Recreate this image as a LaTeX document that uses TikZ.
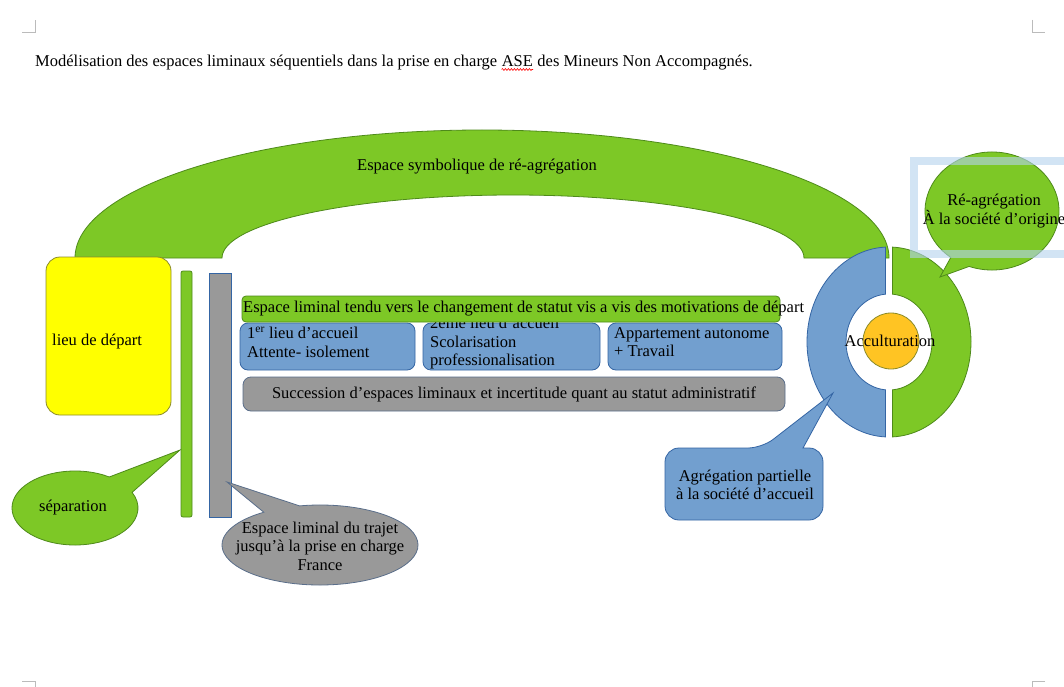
\documentclass[tikz,border=0pt]{standalone}
\usepackage{fontspec}
\setmainfont{Liberation Serif}
\usetikzlibrary{calc,decorations.pathmorphing}
\definecolor{grn}{HTML}{7DC826}
\definecolor{grnd}{HTML}{4E8A1A}
\definecolor{blu}{HTML}{729FCF}
\definecolor{blud}{HTML}{3465A4}
\definecolor{gry}{HTML}{999999}
\definecolor{gryd}{HTML}{5A6E8A}
\definecolor{yel}{HTML}{FFFF00}
\definecolor{yeld}{HTML}{8B8B2A}
\definecolor{org}{HTML}{FFC423}
\definecolor{frm}{HTML}{B4D2EE}
\definecolor{cmark}{HTML}{BBBBBB}
\begin{document}
\begin{tikzpicture}[x=1pt,y=1pt,
  txt/.style={inner sep=0pt, font=\fontsize{16.5}{18.5}\selectfont},
  gshape/.style={fill=grn, draw=grnd, line width=0.8pt},
  bshape/.style={fill=blu, draw=blud, line width=0.8pt},
  yshape/.style={fill=gry, draw=gryd, line width=0.8pt},
  cornermark/.style={draw=cmark, line width=1pt}]
\useasboundingbox (0,0) rectangle (1064,-687);
\fill[white] (0,0) rectangle (1064,-687);
% corner marks
\draw[cornermark] (22,-33) -- (35,-33) -- (35,-20);
\draw[cornermark] (1032,-20) -- (1032,-33) -- (1045,-33);
\draw[cornermark] (22,-681) -- (35,-681) -- (35,-690);
\draw[cornermark] (1045,-681) -- (1032,-681) -- (1032,-690);
% title
\node[txt, anchor=base west] (t1) at (35,-67) {Modélisation des espaces liminaux séquentiels dans la prise en charge};
\node[txt, anchor=base west] (t2) at (t1.base east) {\ ASE};
\node[txt, anchor=base west] (t3) at (t2.base east) {\ des Mineurs Non Accompagnés.};
\draw[red, line width=0.6pt, decorate, decoration={snake, amplitude=0.9pt, segment length=3pt}] ([xshift=4.1pt,yshift=-2.5pt]t2.base west) -- ([yshift=-2.5pt]t2.base east);
% arch
\path[gshape] (75,-258) arc[start angle=180, end angle=0, x radius=407, y radius=128]
  -- (804,-258) arc[start angle=0, end angle=180, x radius=291, y radius=63] -- cycle;
\node[txt] (archtxt) at (477,-167) {Espace symbolique de ré-agrégation};
% lieu de depart
\path[fill=yel, draw=yeld, line width=0.8pt, rounded corners=14] (46,-257) rectangle (171,-415);
\node[txt, anchor=west] (depart) at (52,-342) {lieu de départ};
% bars
\path[gshape, rounded corners=2] (181,-271) rectangle (192,-517);
\path[fill=gry, draw=blud, line width=0.8pt] (209,-273) rectangle (231,-517);
% blue boxes
\path[bshape, rounded corners=8] (240,-323) rectangle (415,-370);
\path[bshape, rounded corners=8] (423,-323) rectangle (600,-370);
\path[bshape, rounded corners=8] (608,-323) rectangle (782,-370);
\node[txt, anchor=north west, align=left] (b1) at (247,-327) {1\textsuperscript{er} lieu d’accueil\\Attente- isolement};
\node[txt, anchor=north west, align=left] (b2) at (430,-317) {2ème lieu d’accueil\\Scolarisation\\professionalisation};
\node[txt, anchor=north west, align=left] (b3) at (614,-327) {Appartement autonome\\+ Travail};
% banner
\path[gshape, rounded corners=4] (242,-296) rectangle (780,-322);
\node[txt, anchor=west] (bantxt) at (243,-309) {Espace liminal tendu vers le changement de statut vis a vis des motivations de départ};
% gray box
\path[yshape, rounded corners=8] (243,-377) rectangle (785,-411);
\node[txt] (graytxt) at (514,-394) {Succession d’espaces liminaux et incertitude quant au statut administratif};
% ring
\coordinate (rc) at (889,-342);
\path[bshape] ($(rc)+(92.45:82 and 95)$) arc[start angle=92.45, end angle=267.55, x radius=82, y radius=95]
  -- ($(rc)+(265.33:43 and 48)$) arc[start angle=265.33, end angle=94.67, x radius=43, y radius=48] -- cycle;
\path[gshape] ($(rc)+(87.55:82 and 95)$) arc[start angle=87.55, end angle=-87.55, x radius=82, y radius=95]
  -- ($(rc)+(-85.33:43 and 48)$) arc[start angle=-85.33, end angle=85.33, x radius=43, y radius=48] -- cycle;
\path[fill=org, draw=yeld, line width=0.8pt] (891,-341) circle (28);
\node[txt] (accult) at (890,-341) {Acculturation};
% re-agregation callout
\coordinate (rac) at (992,-211);
\path[gshape] ($(rac)+(250:67 and 59)$) arc[start angle=250, end angle=592, x radius=67, y radius=59] -- (940,-277) -- cycle;
\draw[frm, line width=8pt, opacity=0.6] (914,-161) rectangle (1072,-254);
\node[txt, align=center] (reagr) at (994,-211) {Ré-agrégation\\À la société d’origine};
% agregation partielle callout
\path[bshape] (744,-520) [rounded corners=14] -| (665,-448) -- (762,-448) [sharp corners] -- (833,-393) -- (803,-448) [rounded corners=14] -| (823,-520) -- cycle;
\node[txt, align=center] (agr) at (745,-485) {Agrégation partielle\\à la société d’accueil};
% separation callout
\coordinate (sc) at (75,-508);
\path[gshape] ($(sc)+(57:63 and 37)$) arc[start angle=57, end angle=385, x radius=63, y radius=37] -- (180,-450) -- cycle;
\node[txt] (sep) at (73,-508) {séparation};
% trajet callout
\coordinate (tc) at (320,-545);
\path[yshape] ($(tc)+(102:98 and 40)$) arc[start angle=102, end angle=-235, x radius=98, y radius=40] -- (227,-482) -- cycle;
\node[txt, align=center] (traj) at (320,-546) {Espace liminal du trajet\\jusqu’à la prise en charge\\France};
\end{tikzpicture}
\end{document}
